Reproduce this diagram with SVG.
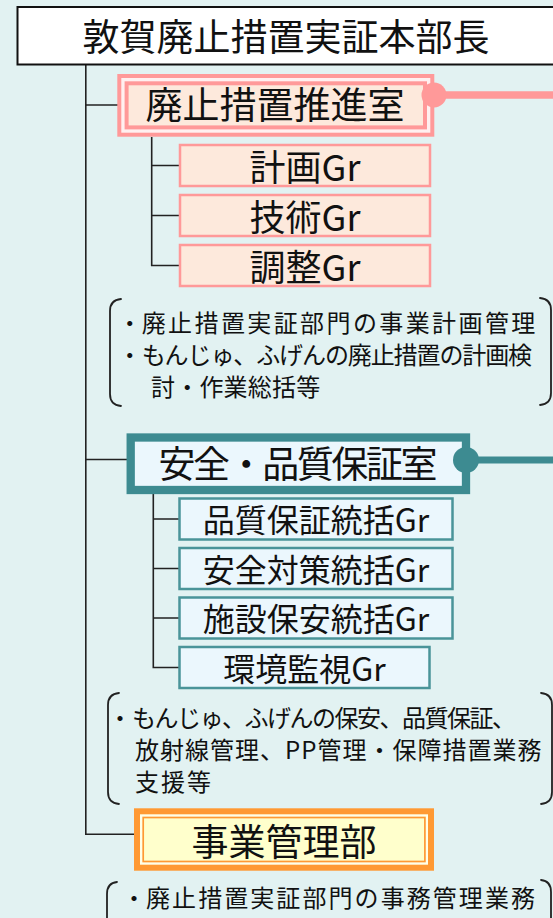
<svg xmlns="http://www.w3.org/2000/svg" width="553" height="918" viewBox="0 0 553 918">
<style>
text{font-family:"Noto Sans CJK JP","Noto Sans CJK SC",sans-serif;fill:#111;}
.big{font-size:37px;text-anchor:middle;}
.gp{font-size:36px;text-anchor:middle;}
.gt{font-size:32px;text-anchor:middle;}
.note{font-size:24px;}
.ln{stroke:#222;stroke-width:1.6;fill:none;}
.br{stroke:#222;stroke-width:1.8;fill:none;stroke-linecap:round;}
.pgr{fill:#FDE9DC;stroke:#FF9999;stroke-width:2.5;}
.tgr{fill:#EBF7FD;stroke:#4A9499;stroke-width:2.5;}
</style>
<rect x="0" y="0" width="553" height="918" fill="#E2F2F2"/>

<g id="connectors">
<path class="ln" d="M85.8,65 V834.3 H136"/>
<path class="ln" d="M85.8,105 H119"/>
<path class="ln" d="M85.8,459.5 H128"/>
<path class="ln" d="M151.7,137 V265.5 H180 M151.7,165.5 H180 M151.7,215.5 H180"/>
<path class="ln" d="M153.3,494 V667.5 H180 M153.3,519 H180 M153.3,568.5 H180 M153.3,618 H180"/>
<line x1="434" y1="95" x2="553" y2="95" stroke="#FF9999" stroke-width="7.5"/>
<line x1="466" y1="460" x2="553" y2="460" stroke="#3D8B91" stroke-width="7"/>
</g>

<g id="head">
<rect x="17.5" y="7" width="560" height="57.5" fill="#FFFFFF" stroke="#111" stroke-width="2"/>
<text class="big" x="286" y="51">敦賀廃止措置実証本部長</text>
</g>

<g id="room1">
<rect x="119.3" y="76" width="313" height="58.7" fill="#FFF0F0" stroke="#FF9999" stroke-width="4"/>
<rect x="126.6" y="83.3" width="298.4" height="44.1" fill="#FDE9DC" stroke="#FF9999" stroke-width="4"/>
<circle cx="434" cy="95" r="12.5" fill="#FF9999"/>
<text class="big" x="275" y="119">廃止措置推進室</text>
</g>

<g id="gr-keikaku">
<rect class="pgr" x="180" y="145" width="250" height="41"/>
<text class="gp" x="305" y="181">計画Gr</text>
</g>
<g id="gr-gijutsu">
<rect class="pgr" x="180" y="195" width="250" height="41"/>
<text class="gp" x="305" y="231">技術Gr</text>
</g>
<g id="gr-chosei">
<rect class="pgr" x="180" y="245" width="250" height="41"/>
<text class="gp" x="305" y="281">調整Gr</text>
</g>

<g id="note1">
<path class="br" d="M121,299 Q110,300 110,311 V394 Q110,405 121,406"/>
<path class="br" d="M540,298 Q551,299 551,310 V393 Q551,404 540,405"/>
<text class="note"><tspan x="117.7" y="331.5">・</tspan><tspan letter-spacing="2.4">廃止措置実証部門の事業計画管理</tspan><tspan x="117.7" y="363.5">・</tspan><tspan letter-spacing="-1.1">もんじゅ、ふげんの廃止措置の計画検</tspan><tspan x="151" y="395.5" letter-spacing="0.2">討・作業総括等</tspan></text>
</g>

<g id="room2">
<rect x="130.7" y="437.5" width="335.3" height="52.5" fill="#EBF7FD" stroke="#3D8B91" stroke-width="8.3"/>
<circle cx="466" cy="460" r="13" fill="#3D8B91"/>
<text class="big" x="298" y="478" textLength="279">安全・品質保証室</text>
</g>

<g id="gr-hinshitsu">
<rect class="tgr" x="179.5" y="498.5" width="273" height="41"/>
<text class="gt" x="316" y="532">品質保証統括Gr</text>
</g>
<g id="gr-anzen">
<rect class="tgr" x="179.5" y="548" width="273" height="41"/>
<text class="gt" x="316" y="581.5">安全対策統括Gr</text>
</g>
<g id="gr-shisetsu">
<rect class="tgr" x="179.5" y="597.5" width="273" height="41"/>
<text class="gt" x="316" y="631">施設保安統括Gr</text>
</g>
<g id="gr-kankyo">
<rect class="tgr" x="179.5" y="647" width="250" height="41"/>
<text class="gt" x="304.5" y="680.5">環境監視Gr</text>
</g>

<g id="note2">
<path class="br" d="M119,693 Q108,694 108,705 V792 Q108,803 119,804"/>
<path class="br" d="M541,693 Q552,694 552,705 V792 Q552,803 541,804"/>
<text class="note"><tspan x="108" y="727">・</tspan><tspan letter-spacing="-1.5">もんじゅ、ふげんの保安、品質保証、</tspan><tspan x="135" y="759" letter-spacing="1">放射線管理、PP管理・保障措置業務</tspan><tspan x="135" y="791" letter-spacing="2">支援等</tspan></text>
</g>

<g id="dept">
<rect x="137" y="811.3" width="294" height="56.4" fill="#FFFFE8" stroke="#FF9933" stroke-width="6"/>
<rect x="143.2" y="817.5" width="281.7" height="44" fill="#FFFFCC" stroke="#FF9933" stroke-width="1.7"/>
<text class="big" x="284" y="856">事業管理部</text>
</g>

<g id="note3">
<path class="br" d="M117,882 Q107,883 107,894 V925"/>
<path class="br" d="M541,880 Q551,881 551,892 V925"/>
<text class="note"><tspan x="122" y="906.5">・</tspan><tspan letter-spacing="2.07">廃止措置実証部門の事務管理業務</tspan></text>
</g>
</svg>
